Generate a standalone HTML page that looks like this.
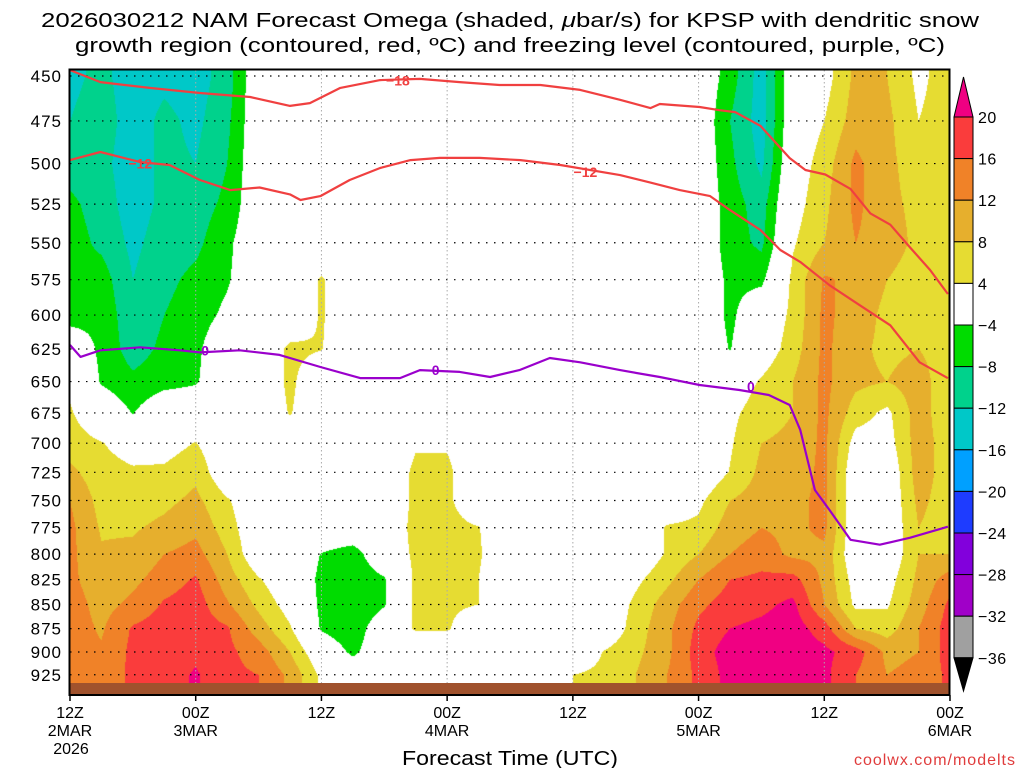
<!DOCTYPE html>
<html><head><meta charset="utf-8"><title>NAM Omega KPSP</title>
<style>
html,body{margin:0;padding:0;background:#fff;}
#wrap{position:relative;width:1024px;height:768px;overflow:hidden;font-family:"Liberation Sans","DejaVu Sans",sans-serif;}
#shade{position:absolute;left:70px;top:70px;}
#ov{position:absolute;left:0;top:0;}
</style></head>
<body>
<div id="wrap">
<canvas id="shade" width="880" height="625"></canvas>
<svg id="ov" width="1024" height="768" xmlns="http://www.w3.org/2000/svg">
<g id="grid"></g>
<rect x="69" y="683" width="881" height="12" fill="#a0522d"/>
<g id="lines"></g>
<rect x="69.5" y="69.5" width="880" height="625.5" fill="none" stroke="#000" stroke-width="2"/>
<g id="axes"></g>
<g id="cbar"></g>
<text x="510" y="27" text-anchor="middle" font-size="20" textLength="938" lengthAdjust="spacingAndGlyphs">2026030212 NAM Forecast Omega (shaded, <tspan font-style="italic">μ</tspan>bar/s) for KPSP with dendritic snow</text>
<text x="510" y="52" text-anchor="middle" font-size="20" textLength="870" lengthAdjust="spacingAndGlyphs">growth region (contoured, red, ºC) and freezing level (contoured, purple, ºC)</text>
<text x="510" y="765" text-anchor="middle" font-size="20" textLength="216" lengthAdjust="spacingAndGlyphs">Forecast Time (UTC)</text>
<text x="1016" y="765" text-anchor="end" font-size="16" fill="#e03c3c" letter-spacing="1">coolwx.com/modelts</text>
</svg>
</div>
<script>
// ---- data ----
const times = [0,3,6,9,12,15,18,21,24,27,30,33,36,39,42,45,48,51,54,57,60,63,66,69,72,75,78,81,84];
const levels = [450,475,500,525,550,575,600,625,650,675,700,725,750,775,800,825,850,875,900,925,950];
const w450=[-13,-11,-14,-13,-14,-10,0,0,0,0,0,0,0,0,0,0,0,0,0,0,0,-6,-14,0,2,9,8,3,6];
const w475=[-12,-10,-14,-11,-13,-9,0,0,0,0,0,0,0,0,0,0,0,0,0,0,0,-8,-14,0,4,10,9,4,6];
const w500=[-10,-11,-14,-11,-12,-8,0,0,0,0,0,0,0,0,0,0,0,0,0,0,0,-7,-13,1,6,13,9,6,6];
const w525=[-7,-10,-14,-11,-10,-7,0,0,0,0,0,0,0,0,0,0,0,0,0,0,0,-6,-10,2,7,13,9,7,6];
const w550=[-6,-9,-13,-10,-9,-5,0,0,0,0,0,0,0,0,0,0,0,0,0,0,0,-6,-9,3.5,8,12,10,7,6];
const w575=[-7,-6,-12,-9,-7,-4.5,0,0,4.5,0,0,0,0,0,0,0,0,0,0,0,0,-5,-5,5,12.5,11,8,6,6];
const w600=[-6,-5,-11,-8,-6,-3,0,0,4.5,0,0,0,0,0,0,0,0,0,0,0,0,-5,0,5,13,10,7,6,6];
const w625=[0,-5,-10,-7,-5,0,0,5,4.2,0,0,0,0,0,0,0,0,0,0,0,0,-4.2,1,6,13,9,7,8,6];
const w650=[3,-4.5,-7,-5.5,-4.5,0,0,5,0,0,0,0,0,0,0,0,0,0,0,0,0,1,4.5,8,13,9,8,10,5];
const w675=[4.5,0,-4.2,0,0,0,0,4.3,0,0,0,0,0,0,0,0,0,0,0,0,0,3,6,8,13,6,3,10,5];
const w700=[6,4.2,2,2,4.2,0,0,0,0,0,0,3.5,3.5,0,0,0,0,0,0,0,0,3.5,8,9,13,2,2,10,6];
const w725=[9,5.5,4.6,4.8,7,0,0,0,0,0,0,5,5,0,0,0,0,0,0,0,0,4.2,9,10,13,0,0,10,6];
const w750=[12,6.5,6,7,9,4.5,0,0,0,0,0,5,5,0,0,0,0,0,0,0,3,8,10,11,13,0,0,9,6];
const w775=[13,7.5,7.5,9,11,6,0,0,0,0,0,5.5,5.5,4.2,0,0,0,0,0,4.5,5,10,12,11,13,0,0,8,6];
const w800=[13,8.5,9,12,13.5,8,0,0,-4.2,-6,0,5,5,4.5,0,0,0,0,0,4.5,8,12,14,11,11,0,0,8,8];
const w825=[13,9.5,11,14,16.5,10,4.5,0,-5,-7,-4.5,5,5,4,0,0,0,0,3,7,12,16,17,17.5,11,2,2,9,14];
const w850=[14,10.5,13,16.5,18,12.5,7,2,-5,-8,-4.5,5,5,4,0,0,0,0,5,10,15,18,19,21,12,3,3.5,10,17];
const w875=[14,11.5,16.5,18,18,16.5,10,4.5,-4.5,-7,0,4.5,4.5,0,0,0,0,0,6,11,17,20,21,22,18,8,6,12,18];
const w900=[13,12.5,17,18,19,17,14,8,0,-5,0,0,0,0,0,0,0,4.3,7,11,18,22,22.5,22,21,18,11,12,18];
const w925=[14,13,17,18,20.5,17,16,11,3,0,0,0,0,0,0,2,4,5,8,12,17,21.5,22,22,21,16,12,13,17];
const w950=[14,13,17,18,20.5,17,16,11,3,0,0,0,0,0,0,2,4,5,8,12,17,21.5,22,22,21,16,12,13,17];
const omega=[w450,w475,w500,w525,w550,w575,w600,w625,w650,w675,w700,w725,w750,w775,w800,w825,w850,w875,w900,w925,w950];

const thresholds=[-36,-32,-28,-24,-20,-16,-12,-8,-4,4,8,12,16,20];
const cbLabels=["20","16","12","8","4","−4","−8","−12","−16","−20","−24","−28","−32","−36"];
const tickLevels=[450,475,500,525,550,575,600,625,650,675,700,725,750,775,800,825,850,875,900,925];
const xTickHours=[0,12,24,36,48,60,72,84];
const xTickTimes=["12Z","00Z","12Z","00Z","12Z","00Z","12Z","00Z"];
const xTickDates=["2MAR","3MAR","","4MAR","","5MAR","","6MAR"];

// -18 C line
const c18Hours=[0,2.9,7.6,12.4,17.2,21,22.9,25.8,29.6,33.4,37.2,41,44.9,48.7,52.5,55.4,56.3,60.1,62,63.5,65.9,68.7,70.2,72.1,74.5,76.4,78.3,80.2,82.1,83.8];
const c18Press=[446.8,453.3,456.5,459.3,461.5,466.5,464.9,456.5,452.2,451.6,453.3,454.9,454.9,457.6,463.1,467.7,465.4,467.1,468.9,470,477.8,496.7,503.9,506.6,515.5,530.9,538.2,553.2,568.3,585];
// -12 C line
const c12Hours=[0,2.9,6.7,9.5,12.4,15.3,18.1,21,22,23.9,26.7,29.6,32.5,35.3,39.1,43,46.8,52.5,55.4,58.2,61.1,63,65.9,67.8,69.7,72.5,75.4,78.3,81.1,83.8];
const c12Press=[497.9,493.1,499.1,500.9,510,516.2,514.6,518.9,522.4,520,510,502.7,497.9,496.6,496.6,497.9,500.9,507,511.6,516.2,520,528.8,541.6,554.8,562.8,578.8,593,607.4,635.1,647.4];
// 0 C freezing level
const c0Hours=[0,1,2.9,6.7,10.5,12.4,16.2,20,23.9,27.7,31.5,33.4,37.2,40.1,42.9,45.8,48.7,52.5,56.3,60.1,63.9,66.7,68.7,69.7,71.1,72.5,74.5,77.3,80.2,83.8];
const c0Press=[622,631,626,623.7,626,627.6,626,629.5,638.7,647.3,647.3,641.1,642.5,646.4,641.1,631.8,635.1,641.1,646.4,652.7,656.6,660.6,668.6,688.8,740.6,758.6,786.3,791,784.3,774];

const contourLabels=["−18","−12","−12","0","0","0"];
const labelHours=[31.3,6.7,49.2,12.9,34.9,65];
const labelPress=[452.5,500,505,626,641,654];

// ---- scales ----
function xScale(t){return 70+t*880/84;}
function yScale(p){return 76+831*Math.log(p/450);}

const colors=["#000000","#a0a0a0","#a000c8","#8200dc","#1e3cff","#00a0ff","#00c8c8","#00d28c","#00dc00","#ffffff","#e6dc32","#e6af2d","#f08228","#fa3c3c","#f00082"];
function colorIdx(v){let i=0;while(i<thresholds.length&&v>=thresholds[i])i++;return i;}
function hex2rgb(h){return [parseInt(h.substr(1,2),16),parseInt(h.substr(3,2),16),parseInt(h.substr(5,2),16)];}
const rgb=colors.map(hex2rgb);

// ---- shading ----
(function(){
  const cv=document.getElementById('shade');const ctx=cv.getContext('2d');
  const W=880,H=625,img=ctx.createImageData(W,H);
  const xs=times.map(xScale), ys=levels.map(yScale);
  const colI=[],colF=[];
  for(let px=0;px<W;px++){const X=70+px+0.5;let i=0;while(i<xs.length-2&&X>xs[i+1])i++;let f=(X-xs[i])/(xs[i+1]-xs[i]);f=Math.max(0,Math.min(1,f));colI.push(i);colF.push(f);}
  for(let py=0;py<H;py++){
    const Y=70+py+0.5;let j=0;while(j<ys.length-2&&Y>ys[j+1])j++;let g=(Y-ys[j])/(ys[j+1]-ys[j]);g=Math.max(0,Math.min(1,g));
    const r0=omega[j],r1=omega[j+1];
    for(let px=0;px<W;px++){
      const i=colI[px],f=colF[px];
      const v=(r0[i]*(1-f)+r0[i+1]*f)*(1-g)+(r1[i]*(1-f)+r1[i+1]*f)*g;
      const c=rgb[colorIdx(v)];const k=(py*W+px)*4;
      img.data[k]=c[0];img.data[k+1]=c[1];img.data[k+2]=c[2];img.data[k+3]=255;
    }
  }
  ctx.putImageData(img,0,0);
})();

const NS='http://www.w3.org/2000/svg';
function mk(tag,attrs,parent){const e=document.createElementNS(NS,tag);for(const k in attrs)e.setAttribute(k,attrs[k]);parent.appendChild(e);return e;}

// grid
const grid=document.getElementById('grid');
tickLevels.forEach(p=>{
  const l=mk('line',{x1:70,x2:950,y1:yScale(p),y2:yScale(p),stroke:'#000','stroke-width':1.2,'stroke-dasharray':'1.5 6.5'},grid);
  
  
});
xTickHours.forEach(h=>{
  const l=mk('line',{x1:xScale(h),x2:xScale(h),y1:70,y2:695,stroke:'#aaa','stroke-width':1,'stroke-dasharray':'1.5 2.5'},grid);
  
  
});

// contour lines
const lines=document.getElementById('lines');
function drawLine(hs,ps,color,name){
  const d=hs.map((h,i)=>(i?'L':'M')+xScale(h).toFixed(1)+' '+Math.max(70,yScale(ps[i])).toFixed(1)).join(' ');
  const p=mk('path',{d:d,fill:'none',stroke:color,'stroke-width':2.2,'stroke-linejoin':'round'},lines);
  
  
}
drawLine(c18Hours,c18Press,'#f04040','contour-minus18');
drawLine(c12Hours,c12Press,'#f04040','contour-minus12');
drawLine(c0Hours,c0Press,'#9a00cc','freezing-level-0c');
contourLabels.forEach((s,i)=>{
  const col=s==='0'?'#9a00cc':'#f04040';
  const t=mk('text',{x:xScale(labelHours[i]),y:yScale(labelPress[i])+5,'text-anchor':'middle','font-size':14,'font-weight':'bold',fill:col},lines);
  t.textContent=s;
  
  
});

// axes
const axes=document.getElementById('axes');
tickLevels.forEach(p=>{
  const t=mk('text',{x:62,y:yScale(p)+6,'text-anchor':'end','font-size':17,'letter-spacing':1},axes);
  t.textContent=String(p);
  
  
});
xTickHours.forEach((h,i)=>{
  const x=xScale(h);
  const tk=mk('line',{x1:x,x2:x,y1:695,y2:701,stroke:'#000','stroke-width':1.5},axes);
  
  
  const t=mk('text',{x:x,y:718,'text-anchor':'middle','font-size':16},axes);
  t.textContent=xTickTimes[i];
  
  
  if(xTickDates[i]){
    const d=mk('text',{x:x,y:736,'text-anchor':'middle','font-size':16},axes);
    d.textContent=xTickDates[i];
    
    
  }
});
const yr=mk('text',{x:71,y:754,'text-anchor':'middle','font-size':16},axes);
yr.textContent='2026';



// colorbar
const cb=document.getElementById('cbar');
const boxTop=117,boxH=41.6,cx0=954,cx1=973;
const up=mk('polygon',{points:`${cx0},${boxTop} ${cx1},${boxTop} ${(cx0+cx1)/2},77`,fill:colors[14],stroke:'#000','stroke-width':1},cb);


for(let k=0;k<13;k++){
  const r=mk('rect',{x:cx0,y:boxTop+k*boxH,width:cx1-cx0,height:boxH,fill:colors[13-k],stroke:'#000','stroke-width':1},cb);
  
  
}
const bot=boxTop+13*boxH;
const dn=mk('polygon',{points:`${cx0},${bot} ${cx1},${bot} ${(cx0+cx1)/2},691`,fill:colors[0],stroke:'#000','stroke-width':1},cb);


cbLabels.forEach((s,k)=>{
  const t=mk('text',{x:978,y:boxTop+k*boxH+6,'font-size':16,'letter-spacing':0.5},cb);
  t.textContent=s;
  
  
});
</script>
</body></html>
